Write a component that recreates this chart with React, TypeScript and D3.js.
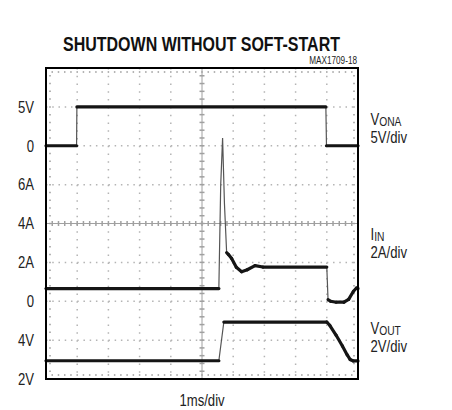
import React from 'react';
import * as d3 from 'd3';

// chart text
const title = 'SHUTDOWN WITHOUT SOFT-START';
const figId = 'MAX1709-18';
const xLabel = '1ms/div';
// left tick labels, one per grid division from the bottom (div 0..7)
const leftLabels = ['2V', '4V', '0', '2A', '4A', '6A', '0', '5V'];

// V(ONA) trace: time in ms, volts
const vonaT = [0, 0.98, 0.99, 8.97, 8.99, 10];
const vonaV = [0, 0, 5, 5, 0, 0];

// I(IN) trace: time in ms, amps
const iinT = [0, 5.54, 5.6, 5.66, 5.72, 5.79, 5.85, 5.95, 6.1, 6.27, 6.45, 6.7, 6.95, 9.0, 9.04, 9.12, 9.3, 9.55, 9.7, 9.85, 9.95, 10];
const iinV = [0.65, 0.65, 6.0, 8.4, 5.0, 2.5, 2.4, 2.2, 1.75, 1.52, 1.62, 1.83, 1.76, 1.76, 0.08, 0.0, -0.05, -0.05, 0.1, 0.5, 0.68, 0.65];

// V(OUT) trace: time in ms, volts
const voutT = [0, 5.54, 5.7, 9.0, 9.1, 9.3, 9.5, 9.65, 9.75, 9.85, 10];
const voutV = [2.94, 2.94, 4.93, 4.93, 4.75, 4.25, 3.7, 3.25, 3.0, 2.93, 2.93];

// channel placement on the 8-division screen: zero level (div) and units per div
const channels = [
  { name: 'V', sub: 'ONA', scale: '5V/div', t: vonaT, v: vonaV, zero: 6, perDiv: 5 },
  { name: 'I', sub: 'IN', scale: '2A/div', t: iinT, v: iinV, zero: 2, perDiv: 2 },
  { name: 'V', sub: 'OUT', scale: '2V/div', t: voutT, v: voutV, zero: -1, perDiv: 2 },
];

const font = "'Liberation Sans', Arial, sans-serif";

// condensed text: regular sans squeezed horizontally
function Narrow({ x, y, anchor = 'start', size = 16, dy, children }: any) {
  return (
    <g transform={`translate(${x},${y}) scale(0.82,1)`}>
      <text x={0} y={0} dy={dy} textAnchor={anchor} fontFamily={font} fontSize={size} fill="#222">{children}</text>
    </g>
  );
}

export default function App() {
  const width = 452;
  const height = 410;
  const left = 46, right = 358, top = 68, bottom = 379;

  const x = d3.scaleLinear().domain([0, 10]).range([left, right]);
  const y = d3.scaleLinear().domain([0, 8]).range([bottom, top]);

  const minorX = x(0.2) - x(0);
  const minorY = y(0) - y(0.2);

  const majorX = d3.range(1, 10).filter(i => i !== 5);
  const majorY = d3.range(1, 8).filter(j => j !== 4);
  const minorXs = d3.range(0, 10.001, 0.2);
  const minorYs = d3.range(0, 8.001, 0.2);

  const labelY = [125, 240, 334]; // baselines of the right-hand channel names

  return (
    <svg width={width} height={height} style={{ position: 'absolute', left: 0, top: 0 }}>
      <rect width={width} height={height} fill="#fff" />

      {/* title and figure id */}
      <text x={201.5} y={51} textAnchor="middle" fontFamily={font} fontWeight="bold" fontSize={20.5}
        textLength={277} lengthAdjust="spacingAndGlyphs" fill="#111">{title}</text>
      <Narrow x={357} y={64} anchor="end" size={10}>{figId}</Narrow>

      {/* dotted major grid */}
      <g stroke="#b4b4b4" strokeWidth={1.5}>
        {majorX.map(i => (
          <line key={'gx' + i} x1={x(i)} x2={x(i)} y1={top} y2={bottom}
            strokeDasharray={`1.5 ${minorY - 1.5}`} />
        ))}
        {majorY.map(j => (
          <line key={'gy' + j} x1={left} x2={right} y1={y(j)} y2={y(j)}
            strokeDasharray={`1.5 ${minorX - 1.5}`} />
        ))}
        {/* minor marks along the frame */}
        {minorXs.map((t, i) => (
          <g key={'fx' + i}>
            <line x1={x(t)} x2={x(t)} y1={top + 3} y2={top + 5} />
            <line x1={x(t)} x2={x(t)} y1={bottom - 5} y2={bottom - 3} />
          </g>
        ))}
        {minorYs.map((d, i) => (
          <g key={'fy' + i}>
            <line x1={left + 3} x2={left + 5} y1={y(d)} y2={y(d)} />
            <line x1={right - 5} x2={right - 3} y1={y(d)} y2={y(d)} />
          </g>
        ))}
      </g>

      {/* center cross with minor ticks */}
      <g stroke="#a0a0a0" strokeWidth={1}>
        <line x1={x(5)} x2={x(5)} y1={top} y2={bottom} />
        <line x1={left} x2={right} y1={y(4)} y2={y(4)} />
        {minorXs.map((t, i) => (
          <line key={'cx' + i} x1={x(t)} x2={x(t)} y1={y(4) - 2.5} y2={y(4) + 2.5} strokeWidth={1.5} />
        ))}
        {minorYs.map((d, i) => (
          <line key={'cy' + i} x1={x(5) - 2.5} x2={x(5) + 2.5} y1={y(d)} y2={y(d)} strokeWidth={1.5} />
        ))}
      </g>

      {/* traces: fast edges thin, settled parts thick */}
      {channels.map((ch, ci) => {
        const pts: [number, number][] = ch.t.map((t, i) => [x(t), y(ch.zero + ch.v[i] / ch.perDiv)]);
        const line = d3.line();
        return (
          <g key={'tr' + ci}>
            <path d={line(pts) || ''} fill="none" stroke="#555" strokeWidth={1.2} />
            {pts.slice(1).map((p, i) => {
              const q = pts[i];
              const steep = Math.abs(p[1] - q[1]) > 3 * Math.abs(p[0] - q[0]);
              if (steep) return null;
              return (
                <line key={i} x1={q[0]} y1={q[1]} x2={p[0]} y2={p[1]}
                  stroke="#151515" strokeWidth={3.2} strokeLinecap="round" />
              );
            })}
          </g>
        );
      })}

      {/* frame */}
      <rect x={left} y={top} width={right - left} height={bottom - top} fill="none" stroke="#000" strokeWidth={2} />

      {/* left labels */}
      {leftLabels.map((s, j) => (
        <Narrow key={'ll' + j} x={34} y={y(j)} dy="0.36em" anchor="end">{s}</Narrow>
      ))}

      {/* right channel labels */}
      {channels.map((ch, ci) => (
        <g key={'rl' + ci}>
          <Narrow x={370.5} y={labelY[ci]}>
            {ch.name}
            <tspan fontSize={12.5} dy={1}>{ch.sub}</tspan>
          </Narrow>
          <Narrow x={370.5} y={labelY[ci] + 17.5}>{ch.scale}</Narrow>
        </g>
      ))}

      {/* x label */}
      <Narrow x={x(5)} y={406} anchor="middle">{xLabel}</Narrow>
    </svg>
  );
}
